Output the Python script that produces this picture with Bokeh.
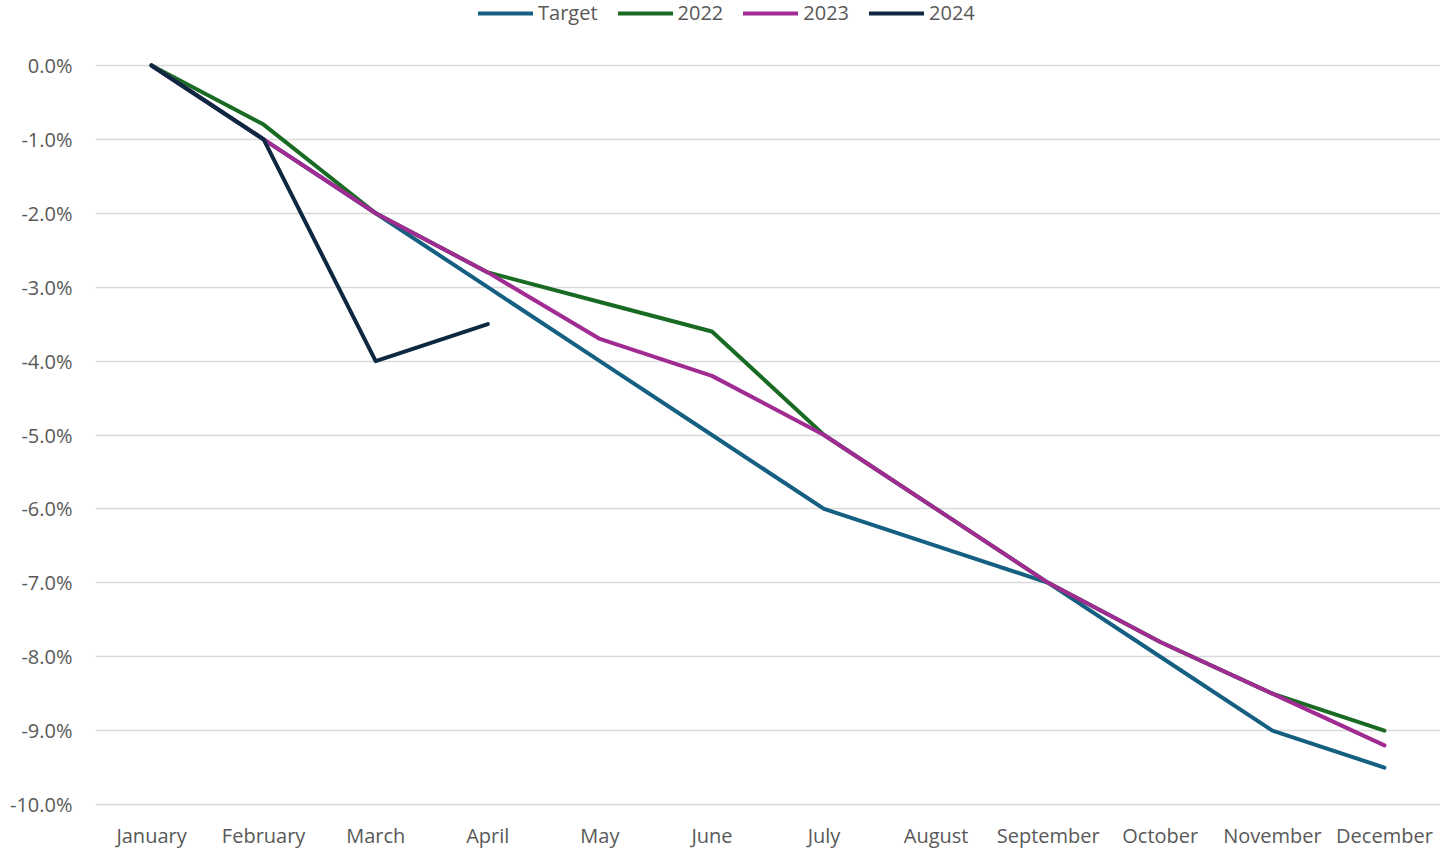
from bokeh.plotting import figure
from bokeh.layouts import column
from bokeh.models import FixedTicker, PrintfTickFormatter, Range1d, FactorRange, Legend, LegendItem
from bokeh.embed import file_html
from bokeh.resources import INLINE

months = ["January", "February", "March", "April", "May", "June", "July",
          "August", "September", "October", "November", "December"]
target = [0.0, -1.0, -2.0, -3.0, -4.0, -5.0, -6.0, -6.5, -7.0, -8.0, -9.0, -9.5]
y2022 = [0.0, -0.8, -2.0, -2.8, -3.2, -3.6, -5.0, -6.0, -7.0, -7.8, -8.5, -9.0]
y2023 = [0.0, -1.0, -2.0, -2.8, -3.7, -4.2, -5.0, -6.0, -7.0, -7.8, -8.5, -9.2]
y2024 = [0.0, -1.0, -4.0, -3.5]
y_ticks = [-10, -9, -8, -7, -6, -5, -4, -3, -2, -1, 0]

series = [
    ("Target", months, target, "#156082"),
    ("2022", months, y2022, "#196B24"),
    ("2023", months, y2023, "#A02B93"),
    ("2024", months[:len(y2024)], y2024, "#0E2841"),
]

FONT = "Open Sans"
TXT = "#595959"
FS = "20px"

# ---- main chart ----
p = figure(frame_width=1345, frame_height=745, output_backend="svg", toolbar_location=None,
           x_range=FactorRange(*months, range_padding=0),
           y_range=Range1d(-10.04, 0.04),
           min_border_left=95, min_border_right=0, min_border_top=30, min_border_bottom=10)
p.outline_line_color = None
p.background_fill_color = "white"
p.border_fill_color = "white"

p.xgrid.grid_line_color = None
p.ygrid.grid_line_color = "#d9d9d9"
p.ygrid.grid_line_width = 1.5

p.yaxis.ticker = FixedTicker(ticks=y_ticks)
p.yaxis.formatter = PrintfTickFormatter(format="%.1f%%")
for ax in (p.xaxis, p.yaxis):
    ax.axis_line_color = None
    ax.major_tick_line_color = None
    ax.minor_tick_line_color = None
    ax.major_tick_out = 0
    ax.major_tick_in = 0
    ax.major_label_text_font = FONT
    ax.major_label_text_font_size = FS
    ax.major_label_text_color = TXT
p.yaxis.major_label_standoff = 23
p.xaxis.major_label_standoff = 14

for name, xs, ys, col in series:
    p.line(xs, ys, line_color=col, line_width=4, line_cap="round", line_join="round")

# ---- legend strip (series drawn out of view, only the legend shows) ----
lg = figure(width=1440, height=32, output_backend="svg", toolbar_location=None,
            x_range=FactorRange(*months, range_padding=0), y_range=Range1d(100, 101),
            min_border=0, min_border_left=95, min_border_right=0,
            min_border_top=0, min_border_bottom=0)
lg.axis.visible = False
lg.grid.visible = False
lg.outline_line_color = None
items = []
for name, xs, ys, col in series:
    r = lg.line(xs, ys, line_color=col, line_width=4, line_cap="round")
    items.append(LegendItem(label=name, renderers=[r]))
legend = Legend(items=items, orientation="horizontal", location=(383, 6),
                label_text_font=FONT, label_text_font_size=FS, label_text_color=TXT,
                glyph_width=55, glyph_height=22, label_standoff=5, spacing=20,
                padding=0, margin=0, border_line_color=None, background_fill_alpha=0)
lg.add_layout(legend, "center")

layout = column(lg, p, spacing=0)
open("out.html", "w").write(file_html(layout, INLINE))
